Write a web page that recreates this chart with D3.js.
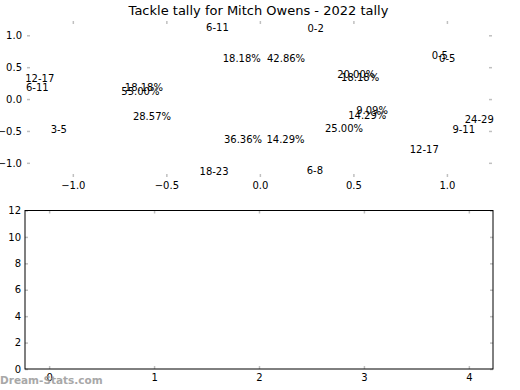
<!DOCTYPE html>
<html>
<head>
<meta charset="utf-8">
<script src="https://cdn.jsdelivr.net/npm/d3@7"></script>
<style>
  body { margin: 0; background: #fff; }
  text { font-family: "DejaVu Sans", sans-serif; }
</style>
</head>
<body>
<div id="chart"></div>
<script>
// Pie labels (the wedges themselves did not render in the original)
const labelTexts = ["6-11", "0-2", "18.18%", "42.86%", "0-5", "0-5", "12-17", "6-11",
  "18.18%", "55.00%", "28.57%", "3-5", "20.00%", "18.18%", "9.09%", "14.29%",
  "24-29", "25.00%", "9-11", "36.36%", "14.29%", "12-17", "18-23", "6-8"];
const labelX = [-0.227, 0.298, -0.097, 0.140, 0.962, 1.002, -1.177, -1.190,
  -0.620, -0.639, -0.577, -1.075, 0.515, 0.536, 0.600, 0.574,
  1.173, 0.450, 1.090, -0.090, 0.137, 0.879, -0.245, 0.294];
const labelY = [1.118, 1.114, 0.643, 0.631, 0.680, 0.631, 0.325, 0.178,
  0.181, 0.118, -0.274, -0.482, 0.380, 0.344, -0.176, -0.258,
  -0.315, -0.456, -0.482, -0.639, -0.639, -0.796, -1.140, -1.121];

// Tick values
const pieXTicks = [-1.0, -0.5, 0.0, 0.5, 1.0];
const pieYTicks = [-1.0, -0.5, 0.0, 0.5, 1.0];
const barXTicks = [0, 1, 2, 3, 4];
const barYTicks = [0, 2, 4, 6, 8, 10, 12];

const title = "Tackle tally for Mitch Owens - 2022 tally";

const width = 520, height = 390;
const tickColor = "#c0c0c0";
const minus = s => s.replace("-", "\u2212");

const svg = d3.select("#chart").append("svg")
  .attr("width", width)
  .attr("height", height);

// ---------- upper panel (pie area, no spines) ----------
const pieBox = { left: 27, right: 492, top: 21, bottom: 177 };
const px = d3.scaleLinear().domain([-1.245, 1.241]).range([pieBox.left, pieBox.right]);
const py = d3.scaleLinear().domain([-1.222, 1.224]).range([pieBox.bottom, pieBox.top]);

function styleTicks(g) {
  g.select(".domain").remove();
  g.selectAll(".tick line").attr("stroke", tickColor).attr("stroke-width", 1.5);
  g.selectAll(".tick text").attr("fill", "#000").style("font-size", "10px")
    .style("font-family", "DejaVu Sans, sans-serif");
}

svg.append("g").attr("transform", `translate(0,${pieBox.bottom})`)
  .call(d3.axisBottom(px).tickValues(pieXTicks).tickSize(-3).tickPadding(5)
    .tickFormat(d => minus(d3.format(".1f")(d))))
  .call(styleTicks);
svg.append("g").attr("transform", `translate(0,${pieBox.top})`)
  .call(d3.axisTop(px).tickValues(pieXTicks).tickSize(-3).tickFormat(""))
  .call(styleTicks);
svg.append("g").attr("transform", `translate(${pieBox.left},0)`)
  .call(d3.axisLeft(py).tickValues(pieYTicks).tickSize(-3).tickPadding(5)
    .tickFormat(d => minus(d3.format(".1f")(d))))
  .call(styleTicks);
svg.append("g").attr("transform", `translate(${pieBox.right},0)`)
  .call(d3.axisRight(py).tickValues(pieYTicks).tickSize(-3).tickFormat(""))
  .call(styleTicks);

svg.append("text")
  .attr("x", (pieBox.left + pieBox.right) / 2 - 1)
  .attr("y", 14.5)
  .attr("text-anchor", "middle")
  .style("font-size", "13px")
  .text(title);

svg.append("g").selectAll("text")
  .data(labelTexts)
  .enter().append("text")
  .attr("x", (d, i) => px(labelX[i]))
  .attr("y", (d, i) => py(labelY[i]))
  .attr("text-anchor", "middle")
  .attr("dominant-baseline", "central")
  .style("font-size", "10px")
  .text(d => d);

// ---------- lower panel (empty bar axes) ----------
const barBox = { left: 25, right: 493, top: 210.5, bottom: 369 };
const bx = d3.scaleLinear().domain([-0.23, 4.23]).range([barBox.left, barBox.right]);
const by = d3.scaleLinear().domain([0, 12]).range([barBox.bottom, barBox.top]);

svg.append("g").attr("transform", `translate(0,${barBox.bottom})`)
  .call(d3.axisBottom(bx).tickValues(barXTicks).tickSize(-3).tickPadding(5)
    .tickFormat(d3.format("d")))
  .call(styleTicks);
svg.append("g").attr("transform", `translate(0,${barBox.top})`)
  .call(d3.axisTop(bx).tickValues(barXTicks).tickSize(-3).tickFormat(""))
  .call(styleTicks);
svg.append("g").attr("transform", `translate(${barBox.left},0)`)
  .call(d3.axisLeft(by).tickValues(barYTicks).tickSize(-3).tickPadding(4)
    .tickFormat(d3.format("d")))
  .call(styleTicks);
svg.append("g").attr("transform", `translate(${barBox.right},0)`)
  .call(d3.axisRight(by).tickValues(barYTicks).tickSize(-3).tickFormat(""))
  .call(styleTicks);

svg.append("rect")
  .attr("x", barBox.left)
  .attr("y", barBox.top)
  .attr("width", barBox.right - barBox.left)
  .attr("height", barBox.bottom - barBox.top)
  .attr("fill", "none")
  .attr("stroke", "#000")
  .attr("stroke-width", 1);

// watermark
svg.append("text")
  .attr("x", 0)
  .attr("y", 384)
  .style("font-size", "10.5px")
  .style("font-weight", "bold")
  .attr("fill", "#999")
  .attr("opacity", 0.85)
  .text("Dream-Stats.com");
</script>
</body>
</html>
